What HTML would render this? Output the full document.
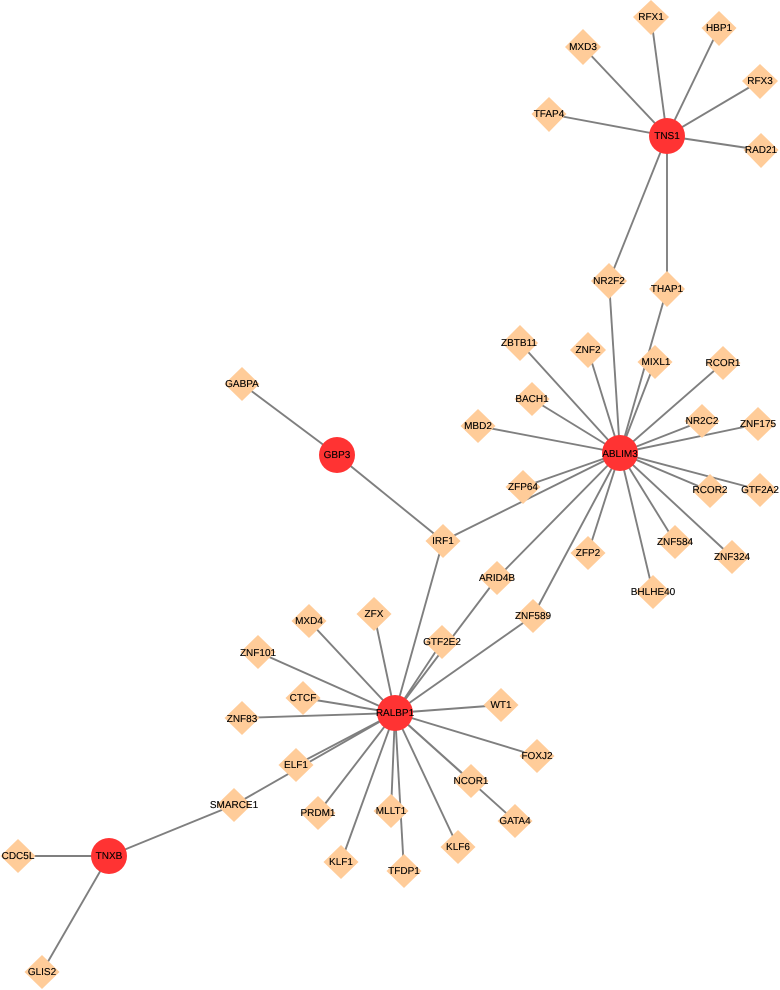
<!DOCTYPE html>
<html>
<head>
<meta charset="utf-8">
<style>
html,body{margin:0;padding:0;background:#fff;width:780px;height:990px;overflow:hidden}
svg{display:block}
.e line{stroke:#7f7f7f;stroke-width:1.9}
.d path{fill:#FFCC99}
.r circle{fill:#FF3333}
text{font-family:"Liberation Sans",sans-serif;font-size:10px;fill:#000;text-anchor:middle;dominant-baseline:central;text-rendering:geometricPrecision;stroke:#000;stroke-width:0.12px}
</style>
</head>
<body>
<svg width="780" height="990" viewBox="0 0 780 990" xmlns="http://www.w3.org/2000/svg">
<g class="e">
<line x1="667" y1="136" x2="651" y2="17"/>
<line x1="667" y1="136" x2="719" y2="28"/>
<line x1="667" y1="136" x2="583" y2="47"/>
<line x1="667" y1="136" x2="760" y2="81"/>
<line x1="667" y1="136" x2="549" y2="114"/>
<line x1="667" y1="136" x2="761" y2="150"/>
<line x1="667" y1="136" x2="609" y2="281"/>
<line x1="667" y1="136" x2="667" y2="289"/>
<line x1="620" y1="453" x2="609" y2="281"/>
<line x1="620" y1="453" x2="667" y2="289"/>
<line x1="620" y1="453" x2="520" y2="343"/>
<line x1="620" y1="453" x2="588" y2="350"/>
<line x1="620" y1="453" x2="655" y2="362"/>
<line x1="620" y1="453" x2="723" y2="363"/>
<line x1="620" y1="453" x2="532" y2="399"/>
<line x1="620" y1="453" x2="702" y2="421"/>
<line x1="620" y1="453" x2="758" y2="424"/>
<line x1="620" y1="453" x2="478" y2="426"/>
<line x1="620" y1="453" x2="523" y2="487"/>
<line x1="620" y1="453" x2="443" y2="541"/>
<line x1="620" y1="453" x2="710" y2="491"/>
<line x1="620" y1="453" x2="760" y2="490"/>
<line x1="620" y1="453" x2="675" y2="542"/>
<line x1="620" y1="453" x2="732" y2="557"/>
<line x1="620" y1="453" x2="588" y2="553"/>
<line x1="620" y1="453" x2="653" y2="592"/>
<line x1="620" y1="453" x2="497" y2="578"/>
<line x1="620" y1="453" x2="533" y2="616"/>
<line x1="337" y1="455" x2="242" y2="384"/>
<line x1="337" y1="455" x2="443" y2="541"/>
<line x1="395" y1="713" x2="443" y2="541"/>
<line x1="395" y1="713" x2="497" y2="578"/>
<line x1="395" y1="713" x2="533" y2="616"/>
<line x1="395" y1="713" x2="442" y2="642"/>
<line x1="395" y1="713" x2="374" y2="614"/>
<line x1="395" y1="713" x2="309" y2="621"/>
<line x1="395" y1="713" x2="258" y2="652"/>
<line x1="395" y1="713" x2="303" y2="698"/>
<line x1="395" y1="713" x2="242" y2="718"/>
<line x1="395" y1="713" x2="296" y2="765"/>
<line x1="395" y1="713" x2="234" y2="805"/>
<line x1="395" y1="713" x2="501" y2="705"/>
<line x1="395" y1="713" x2="537" y2="756"/>
<line x1="395" y1="713" x2="471" y2="781"/>
<line x1="395" y1="713" x2="515" y2="821"/>
<line x1="395" y1="713" x2="318" y2="813"/>
<line x1="395" y1="713" x2="391" y2="811"/>
<line x1="395" y1="713" x2="341" y2="862"/>
<line x1="395" y1="713" x2="404" y2="871"/>
<line x1="395" y1="713" x2="458" y2="847"/>
<line x1="109" y1="856" x2="234" y2="805"/>
<line x1="109" y1="856" x2="18" y2="856"/>
<line x1="109" y1="856" x2="42" y2="972"/>
</g>
<g class="d">
<path d="M651 0l18 17-18 18-18-18z"/>
<path d="M719 11l17.500 17-17.500 18-17.500-18z"/>
<path d="M583 29l18 18-18 18-18-18z"/>
<path d="M760 64l18 17-18 18-18-18z"/>
<path d="M549 97l17.500 17-17.500 18-17.500-18z"/>
<path d="M761 133l17.500 17-17.500 18-17.500-18z"/>
<path d="M609 263l18 18-18 18-18-18z"/>
<path d="M667 271l18 18-18 18-18-18z"/>
<path d="M520 325l18 18-18 18-18-18z"/>
<path d="M588 332l18 18-18 18-18-18z"/>
<path d="M655 345l17.500 17-17.500 17-17.500-17z"/>
<path d="M723 346l17.500 17-17.500 17-17.500-17z"/>
<path d="M532 382l17.500 17-17.500 17-17.500-17z"/>
<path d="M702 404l17.500 17-17.500 17-17.500-17z"/>
<path d="M758 407l17.500 17-17.500 17-17.500-17z"/>
<path d="M478 409l17.500 17-17.500 17-17.500-17z"/>
<path d="M523 470l17.500 17-17.500 17-17.500-17z"/>
<path d="M710 474l17.500 17-17.500 17-17.500-17z"/>
<path d="M760 473l17.500 17-17.500 17-17.500-17z"/>
<path d="M675 525l17.500 17-17.500 17-17.500-17z"/>
<path d="M732 540l17.500 17-17.500 17-17.500-17z"/>
<path d="M588 536l17.500 17-17.500 17-17.500-17z"/>
<path d="M653 575l17.500 17-17.500 17-17.500-17z"/>
<path d="M497 561l17.500 17-17.500 17-17.500-17z"/>
<path d="M533 599l17.500 17-17.500 17-17.500-17z"/>
<path d="M443 524l17.500 17-17.500 17-17.500-17z"/>
<path d="M242 367l17.500 17-17.500 17-17.500-17z"/>
<path d="M442 625l17.500 17-17.500 17-17.500-17z"/>
<path d="M374 597l17.500 17-17.500 17-17.500-17z"/>
<path d="M309 604l17.500 17-17.500 17-17.500-17z"/>
<path d="M258 635l17.500 17-17.500 17-17.500-17z"/>
<path d="M303 681l17.500 17-17.500 17-17.500-17z"/>
<path d="M242 701l17.500 17-17.500 17-17.500-17z"/>
<path d="M296 748l17.500 17-17.500 17-17.500-17z"/>
<path d="M234 788l17.500 17-17.500 17-17.500-17z"/>
<path d="M501 688l17.500 17-17.500 17-17.500-17z"/>
<path d="M537 739l17.500 17-17.500 17-17.500-17z"/>
<path d="M471 764l17.500 17-17.500 17-17.500-17z"/>
<path d="M515 804l17.500 17-17.500 17-17.500-17z"/>
<path d="M318 796l17.500 17-17.500 17-17.500-17z"/>
<path d="M391 794l17.500 17-17.500 17-17.500-17z"/>
<path d="M341 845l17.500 17-17.500 17-17.500-17z"/>
<path d="M404 854l17.500 17-17.500 17-17.500-17z"/>
<path d="M458 830l17.500 17-17.500 17-17.500-17z"/>
<path d="M18 839l17.500 17-17.500 17-17.500-17z"/>
<path d="M42 955l17.500 17-17.500 17-17.500-17z"/>
</g>
<g class="r">
<circle cx="667" cy="136" r="18"/>
<circle cx="620" cy="453" r="18"/>
<circle cx="337" cy="455" r="18"/>
<circle cx="395" cy="713" r="18"/>
<circle cx="109" cy="856" r="18"/>
</g>
<g transform="translate(0,0.7)">
<text x="651" y="17">RFX1</text>
<text x="719" y="28">HBP1</text>
<text x="583" y="47">MXD3</text>
<text x="760" y="81">RFX3</text>
<text x="549" y="114">TFAP4</text>
<text x="761" y="150">RAD21</text>
<text x="667" y="136">TNS1</text>
<text x="609" y="281">NR2F2</text>
<text x="667" y="289">THAP1</text>
<text x="519" y="343">ZBTB11</text>
<text x="588" y="350">ZNF2</text>
<text x="656" y="362">MIXL1</text>
<text x="723" y="363">RCOR1</text>
<text x="532" y="399">BACH1</text>
<text x="702" y="421">NR2C2</text>
<text x="758" y="424">ZNF175</text>
<text x="478" y="426">MBD2</text>
<text x="620" y="454">ABLIM3</text>
<text x="523" y="487">ZFP64</text>
<text x="710" y="490">RCOR2</text>
<text x="760" y="490">GTF2A2</text>
<text x="675" y="542">ZNF584</text>
<text x="732" y="557">ZNF324</text>
<text x="588" y="553">ZFP2</text>
<text x="653" y="592">BHLHE40</text>
<text x="497" y="578">ARID4B</text>
<text x="533" y="616">ZNF589</text>
<text x="443" y="541">IRF1</text>
<text x="242" y="384">GABPA</text>
<text x="337" y="455">GBP3</text>
<text x="442" y="642">GTF2E2</text>
<text x="374" y="614">ZFX</text>
<text x="309" y="621">MXD4</text>
<text x="258" y="653">ZNF101</text>
<text x="303" y="698">CTCF</text>
<text x="242" y="719">ZNF83</text>
<text x="395" y="713">RALBP1</text>
<text x="501" y="705">WT1</text>
<text x="537" y="756">FOXJ2</text>
<text x="296" y="765">ELF1</text>
<text x="471" y="781">NCOR1</text>
<text x="515" y="821">GATA4</text>
<text x="318" y="813">PRDM1</text>
<text x="391" y="811">MLLT1</text>
<text x="341" y="862">KLF1</text>
<text x="404" y="871">TFDP1</text>
<text x="458" y="847">KLF6</text>
<text x="234" y="805">SMARCE1</text>
<text x="109" y="856">TNXB</text>
<text x="18" y="856">CDC5L</text>
<text x="42" y="972">GLIS2</text>
</g>
</svg>
</body>
</html>
